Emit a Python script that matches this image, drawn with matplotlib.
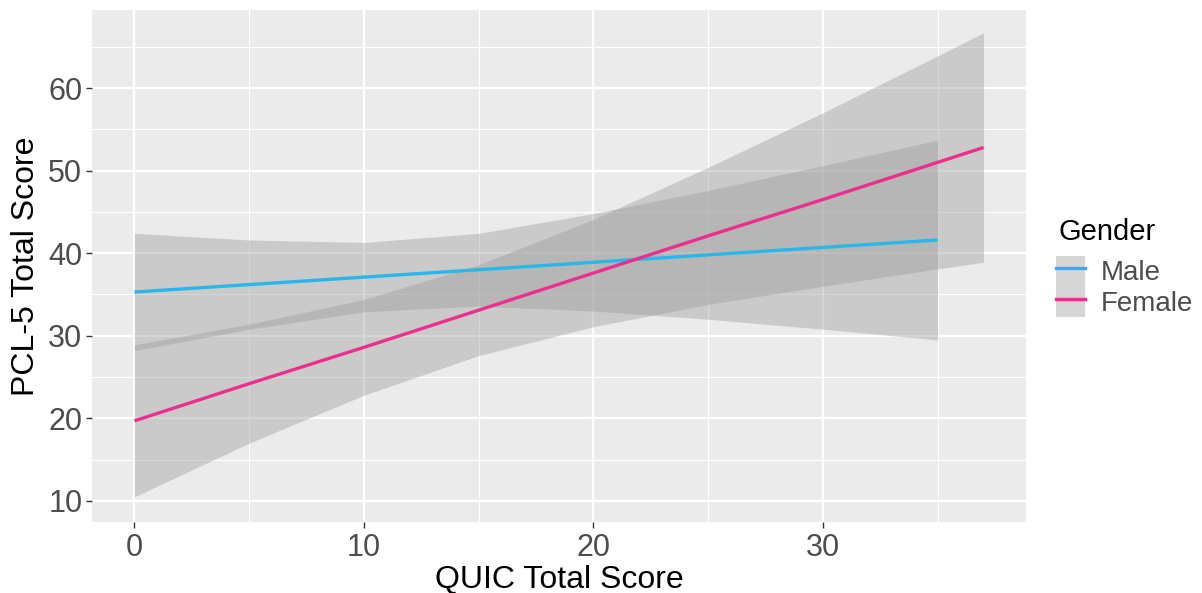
import numpy as np
import matplotlib.pyplot as plt
from matplotlib.patches import Patch
from matplotlib.lines import Line2D
from matplotlib.ticker import MultipleLocator

plt.rcParams['font.family'] = ['Liberation Sans', 'DejaVu Sans']

# values
male_x = [0, 5, 10, 15, 20, 25, 30, 35]
male_fit = [35.3, 36.2, 37.1, 38.0, 38.9, 39.8, 40.7, 41.6]
male_upper = [42.4, 41.6, 41.3, 42.4, 44.8, 47.6, 50.6, 53.7]
male_lower = [28.2, 30.8, 32.9, 33.6, 33.0, 32.0, 30.8, 29.5]

female_x = [0, 5, 10, 15, 20, 25, 30, 35, 37]
female_fit = [19.7, 24.2, 28.6, 33.1, 37.6, 42.1, 46.5, 51.0, 52.8]
female_upper = [28.9, 31.4, 34.4, 38.6, 44.1, 50.4, 57.0, 63.9, 66.7]
female_lower = [10.5, 17.0, 22.8, 27.6, 31.1, 33.8, 36.0, 38.1, 38.9]

groups = ['Male', 'Female']
colors = ['#29B6EA', '#EC2F8C']
x_ticks = [0, 10, 20, 30]
y_ticks = [10, 20, 30, 40, 50, 60]

fig = plt.figure(figsize=(12.02, 5.93), dpi=100)
ax = fig.add_axes([92 / 1202, 1 - 522 / 593, 934 / 1202, 512 / 593])
ax.set_facecolor('#EBEBEB')

band_col = '#999999'
series = [(male_x, male_fit, male_lower, male_upper),
          (female_x, female_fit, female_lower, female_upper)]
for (xs, fit, lo, hi), col in zip(series, colors):
    ax.fill_between(xs, lo, hi, color=band_col, alpha=0.4, linewidth=0, zorder=2)
    ax.plot(xs, fit, color=col, lw=2.4, zorder=3, solid_capstyle='butt')

ax.set_xlim(-1.85, 38.85)
ax.set_ylim(7.45, 69.45)
ax.set_xticks(x_ticks)
ax.set_yticks(y_ticks)
ax.xaxis.set_minor_locator(MultipleLocator(5))
ax.yaxis.set_minor_locator(MultipleLocator(5))
ax.grid(which='major', color='white', lw=1.6, zorder=1)
ax.grid(which='minor', color='white', lw=0.8, zorder=1)
ax.set_axisbelow(True)
for s in ax.spines.values():
    s.set_visible(False)
ax.tick_params(which='major', length=4, width=1, color='#333333',
               labelsize=22, labelcolor='#4D4D4D', pad=3)
ax.tick_params(axis='x', pad=4)
ax.tick_params(which='minor', length=0)

ax.set_xlabel('QUIC Total Score', fontsize=23, color='black', labelpad=1)
ax.set_ylabel('PCL-5 Total Score', fontsize=23, color='black', labelpad=5)

# legend: title as separate text so the gap to the keys matches
fig.text(1058 / 1202, 1 - 240 / 593, 'Gender', fontsize=21, color='black',
         ha='left', va='baseline')
handles = [(Patch(facecolor=band_col, alpha=0.4, lw=0),
            Line2D([], [], color=c, lw=2.4)) for c in colors]
leg = fig.legend(handles, groups, loc='upper left',
                 bbox_to_anchor=(1056 / 1202, 1 - 256 / 593),
                 frameon=False, fontsize=20,
                 handlelength=1.05, handleheight=1.3, labelspacing=0.0,
                 handletextpad=0.55, borderaxespad=0, borderpad=0)
for t in leg.get_texts():
    t.set_color('#4D4D4D')

plt.savefig('out.png', dpi=100)
